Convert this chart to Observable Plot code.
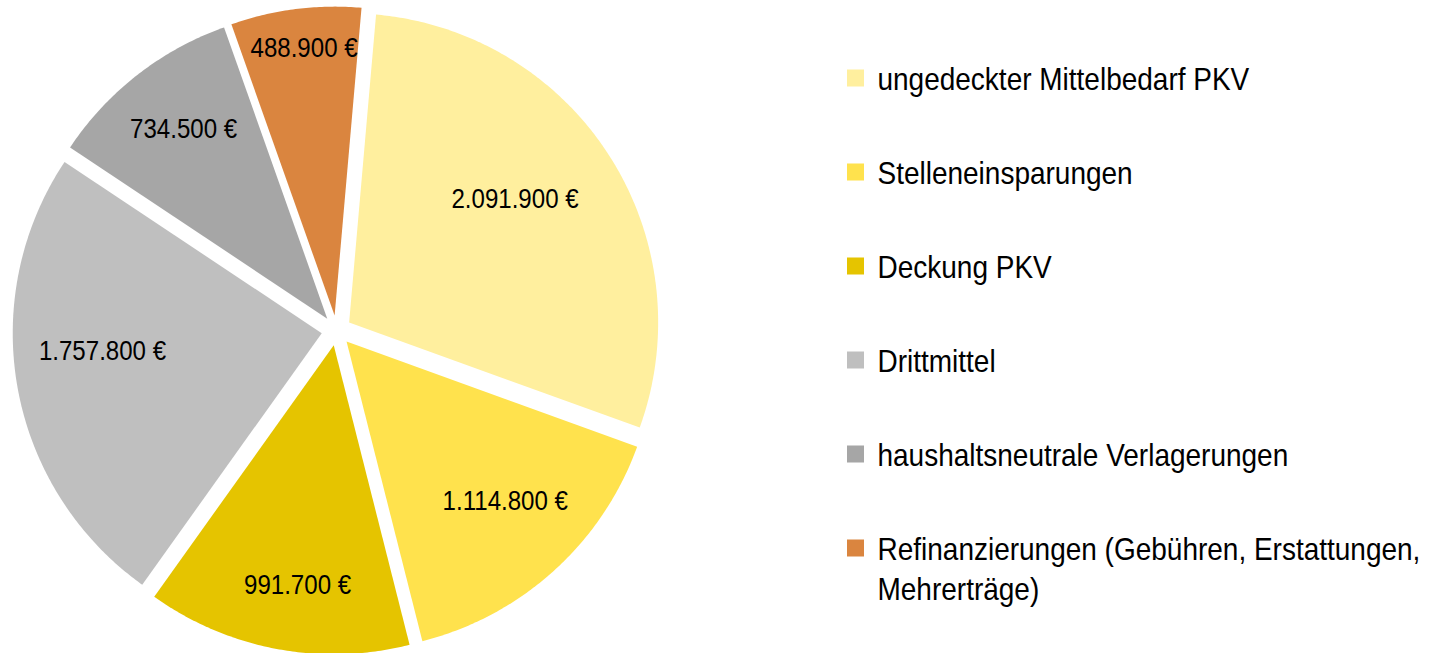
<!DOCTYPE html>
<html>
<head>
<meta charset="utf-8">
<script src="https://cdn.jsdelivr.net/npm/d3@7"></script>
<script src="https://cdn.jsdelivr.net/npm/@observablehq/plot@0.6"></script>
<style>
  html, body { margin: 0; padding: 0; background: #fff; }
  #chart svg { display: block; }
</style>
</head>
<body>
<div id="chart"></div>
<script>
// ---- data ----
const categories = [
  "ungedeckter Mittelbedarf PKV",
  "Stelleneinsparungen",
  "Deckung PKV",
  "Drittmittel",
  "haushaltsneutrale Verlagerungen",
  "Refinanzierungen (Gebühren, Erstattungen,\nMehrerträge)"
];
const values = [2091900, 1114800, 991700, 1757800, 734500, 488900];
const colors = ["#FFEF9E", "#FFE24D", "#E5C400", "#BFBFBF", "#A6A6A6", "#DA853F"];

// ---- layout (style, not data) ----
const W = 1430, H = 653;
const cx = 336, cy = 330, R = 309, explode = 15;
const startDeg = 5;
const labelRadius = [0.67, 0.727, 0.786, 0.712, 0.769, 0.87];
const labelAngleFrac = [0.46, 0.45, 0.458, 0.564, 0.52, 0.53];
const FONT = "'Liberation Sans Narrow', 'Arial Narrow', 'Liberation Sans', Arial, sans-serif";
const labelNarrow = 0.86, legendNarrow = 0.875;
const labelFont = 28;
const legendX = 847, legendTop = 78, legendStep = 94, legendBox = 17;
const legendFont = 32, legendLH = 1.26;

const locale = d3.formatLocale({decimal: ",", thousands: ".", grouping: [3], currency: ["", " €"]});
const fmt = v => locale.format(",d")(v) + " €";

const arcs = d3.pie().sort(null)
  .startAngle(startDeg * Math.PI / 180)
  .endAngle(startDeg * Math.PI / 180 + 2 * Math.PI)(values);

const slicePts = [];
const labels = [];
arcs.forEach((a, i) => {
  const mid = (a.startAngle + a.endAngle) / 2;
  const ox = cx + Math.sin(mid) * explode;
  const oy = cy - Math.cos(mid) * explode;
  const cat = categories[i];
  slicePts.push({cat, x: ox, y: oy});
  const n = Math.max(8, Math.ceil((a.endAngle - a.startAngle) / (Math.PI / 360)));
  for (let k = 0; k <= n; ++k) {
    const t = a.startAngle + (a.endAngle - a.startAngle) * k / n;
    slicePts.push({cat, x: ox + Math.sin(t) * R, y: oy - Math.cos(t) * R});
  }
  slicePts.push({cat, x: ox, y: oy});
  const la = a.startAngle + (a.endAngle - a.startAngle) * labelAngleFrac[i];
  const lr = labelRadius[i] * R;
  labels.push({x: ox + Math.sin(la) * lr, y: oy - Math.cos(la) * lr, text: fmt(values[i])});
});

const legend = categories.map((c, i) => {
  const yc = legendTop + legendStep * i;
  return {
    cat: c,
    x1: legendX, x2: legendX + legendBox,
    y1: yc - legendBox / 2, y2: yc + legendBox / 2,
    tx: legendX + 30,
    ty: yc + 0.36 * legendFont - 0.71 * legendLH * legendFont
  };
});

const chart = Plot.plot({
  width: W,
  height: H,
  margin: 0,
  style: {background: "#fff", fontFamily: FONT},
  x: {domain: [0, W], range: [0, W], axis: null},
  y: {domain: [0, H], range: [0, H], axis: null},
  color: {domain: categories, range: colors},
  marks: [
    Plot.line(slicePts, {x: "x", y: "y", z: "cat", fill: "cat", stroke: "none", curve: "linear"}),
    Plot.text(labels, {x: "x", y: "y", text: "text", fontSize: labelFont, fill: "#000", fontFamily: FONT,
      className: "pie-label"}),
    Plot.rect(legend, {x1: "x1", x2: "x2", y1: "y1", y2: "y2", fill: "cat"}),
    Plot.text(legend, {x: "tx", y: "ty", text: "cat", textAnchor: "start", lineAnchor: "top",
      lineHeight: legendLH, fontSize: legendFont, fill: "#000", fontFamily: FONT, className: "legend-label"})
  ]
});
// emulate the condensed (Arial Narrow) face: compress text horizontally around its anchor
function narrowText(sel, k) {
  d3.select(chart).selectAll(sel).each(function () {
    const t = this.getAttribute("transform");
    if (t && t.includes("translate")) this.setAttribute("transform", t + ` scale(${k},1)`);
  });
}
narrowText(".pie-label text", labelNarrow);
narrowText(".legend-label text", legendNarrow);
document.getElementById("chart").appendChild(chart);
</script>
</body>
</html>
